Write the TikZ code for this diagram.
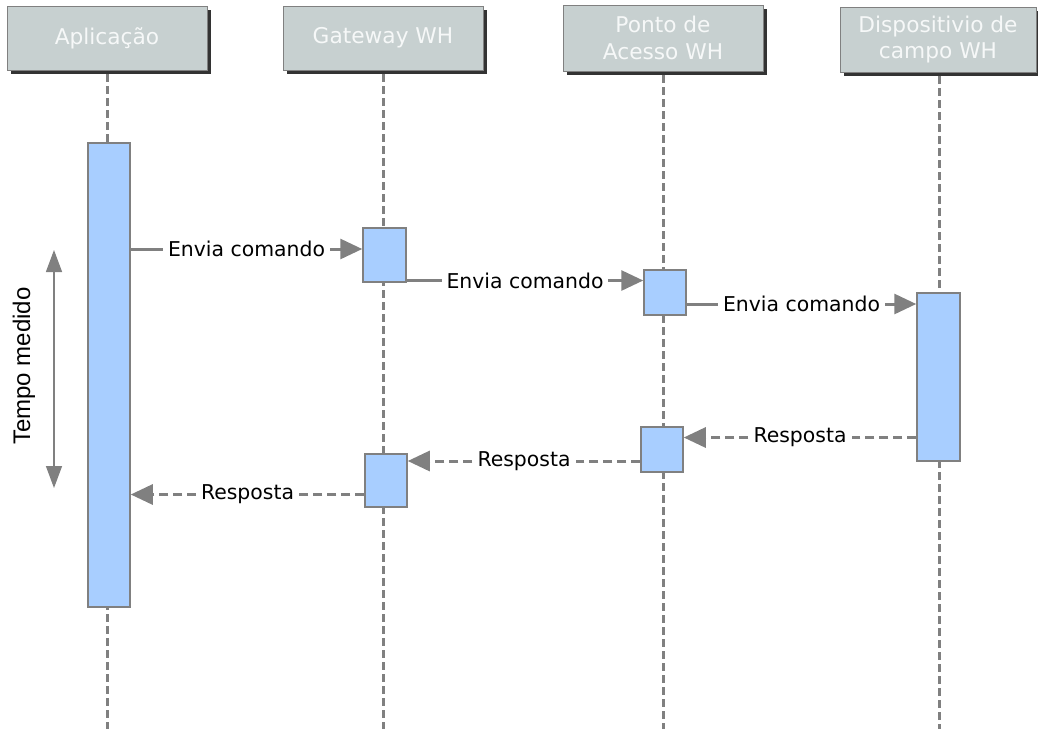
\documentclass[tikz,border=0pt]{standalone}
\usepackage{fontspec}
\setmainfont{DejaVu Sans}
\newfontfamily\arialf{Liberation Sans}
\usetikzlibrary{arrows.meta,shadows}

\definecolor{linegray}{RGB}{128,128,128}
\definecolor{hdrfill}{RGB}{199,208,208}
\definecolor{actfill}{RGB}{168,206,255}
\definecolor{hdrtext}{RGB}{246,248,248}

\newcommand{\hdrfont}{\fontsize{21.7}{26.5}\selectfont}
\newcommand{\lblfont}{\fontsize{20.4}{24}\selectfont}

\tikzset{
  hdr/.style={draw=linegray, line width=1pt, fill=hdrfill, text=hdrtext,
    align=center, inner sep=0pt, font=\hdrfont,
    general shadow={fill=black!80, shadow xshift=4pt, shadow yshift=-4pt}},
  lifeline/.style={draw=linegray, line width=3pt, dash pattern=on 8pt off 4pt},
  act/.style={draw=linegray, line width=1.5pt, fill=actfill, inner sep=0pt},
  msg/.style={draw=linegray, line width=3pt,
    -{Triangle[length=22pt,width=20pt]}},
  reply/.style={msg, dash pattern=on 9pt off 5pt},
  lbl/.style={fill=white, text=black, font=\lblfont, inner xsep=5pt, inner ysep=2pt},
}

\begin{document}
\begin{tikzpicture}[x=1pt,y=-1pt]
\useasboundingbox (0,0) rectangle (1038,729);

% header boxes of the four participants
\node[hdr, minimum width=200pt, minimum height=64pt] (hA) at (107,38) {Aplicação};
\node[hdr, minimum width=200pt, minimum height=64pt] (hG) at (383,38) {Gateway WH};
\node[hdr, minimum width=200pt, minimum height=66pt] (hP) at (663,38) {Ponto de\\Acesso WH};
\node[hdr, minimum width=196pt, minimum height=65pt] (hD) at (938,39.5) {Dispositivio de\\campo WH};

% lifelines
\draw[lifeline] (107,74) -- (107,729);
\draw[lifeline] (383,74) -- (383,729);
\draw[lifeline] (663,75) -- (663,729);
\draw[lifeline] (939,76) -- (939,729);

% activation bars
\node[act, minimum width=42pt, minimum height=464pt] (aA)  at (109,375) {};
\node[act, minimum width=43pt, minimum height=54pt]  (aG1) at (384.5,255) {};
\node[act, minimum width=42pt, minimum height=45pt]  (aP1) at (665,292.5) {};
\node[act, minimum width=43pt, minimum height=168pt] (aD)  at (938.5,377) {};
\node[act, minimum width=42pt, minimum height=45pt]  (aP2) at (662,449.5) {};
\node[act, minimum width=42pt, minimum height=53pt]  (aG2) at (386,480.5) {};

% message levels
\coordinate (m1) at (0,249);
\coordinate (m2) at (0,280.5);
\coordinate (m3) at (0,304);
\coordinate (m4) at (0,437.5);
\coordinate (m5) at (0,461);
\coordinate (m6) at (0,494.5);

% requests
\draw[msg] (aA.east |- m1) -- node[lbl] (l1) {Envia comando} (aG1.west |- m1);
\draw[msg] (aG1.east |- m2) -- node[lbl] (l2) {Envia comando} (aP1.west |- m2);
\draw[msg] (aP1.east |- m3) -- node[lbl] (l3) {Envia comando} (aD.west |- m3);

% responses
\draw[reply] (aD.west |- m4) -- node[lbl] (l4) {Resposta} (aP2.east |- m4);
\draw[reply] (aP2.west |- m5) -- node[lbl] (l5) {Resposta} (aG2.east |- m5);
\draw[reply] (aG2.west |- m6) -- node[lbl] (l6) {Resposta} (aA.east |- m6);

% measured time span
\coordinate (tTop) at (54,250);
\coordinate (tBot) at (54,488);
\draw[draw=linegray, line width=1.4pt,
  {Triangle[length=22pt,width=16pt]}-{Triangle[length=22pt,width=16pt]}] (tTop) -- (tBot);
\node[rotate=90, font=\arialf\fontsize{24}{28}\selectfont] (tlbl) at (24,366) {Tempo medido};
\end{tikzpicture}
\end{document}
